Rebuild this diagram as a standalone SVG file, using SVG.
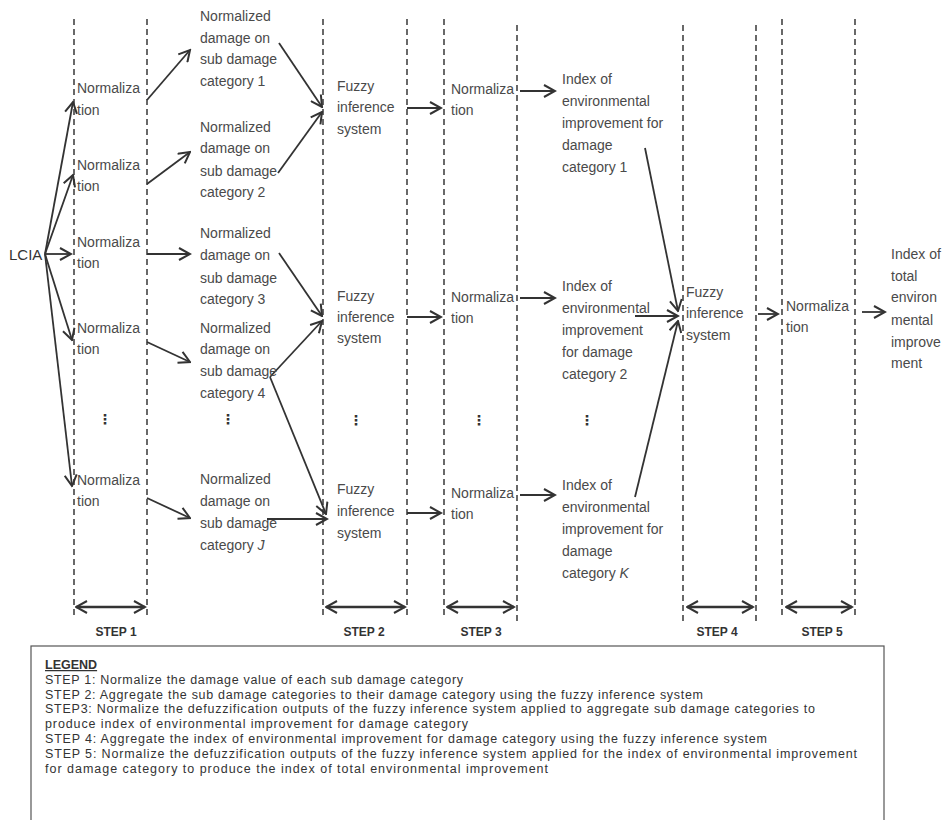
<svg xmlns="http://www.w3.org/2000/svg" width="946" height="820" viewBox="0 0 946 820">
<style>
.t{font-family:"Liberation Sans",Arial,sans-serif;font-size:14px;fill:#4a4a4a}
.lc{font-family:"Liberation Sans",Arial,sans-serif;font-size:15px;fill:#333}
.st{font-family:"Liberation Sans",Arial,sans-serif;font-size:12px;font-weight:bold;fill:#333;text-anchor:middle}
.lg{font-family:"Liberation Sans",Arial,sans-serif;font-size:12.5px;fill:#333}
.dots{font-family:"DejaVu Sans",sans-serif;font-size:14px;font-weight:bold;fill:#333;text-anchor:middle}
.dash{stroke:#444;stroke-width:1.6;stroke-dasharray:6 4;fill:none}
.c{stroke:#333;stroke-width:1.8;fill:none;marker-end:url(#ah)}
.dbl{stroke:#333;stroke-width:2.5;fill:none;marker-end:url(#ah2);marker-start:url(#ah2)}
</style>
<defs>
<marker id="ah" markerUnits="userSpaceOnUse" markerWidth="14" markerHeight="14" viewBox="-1 -1 13 14" refX="11" refY="6" orient="auto">
<path d="M0,0 L11,6 L0,12" fill="none" stroke="#333" stroke-width="2"/>
</marker>
<marker id="ah2" markerUnits="userSpaceOnUse" markerWidth="14" markerHeight="14" viewBox="-1 -1 13 14" refX="11" refY="6" orient="auto-start-reverse">
<path d="M0,0 L11,6 L0,12" fill="none" stroke="#333" stroke-width="2"/>
</marker>
</defs>
<rect width="946" height="820" fill="#fff"/>

<g id="step-lines">
<line class="dash" x1="74" y1="19" x2="74" y2="616"/>
<line class="dash" x1="147" y1="19" x2="147" y2="616"/>
<line class="dash" x1="323" y1="19" x2="323" y2="616"/>
<line class="dash" x1="407" y1="19" x2="407" y2="616"/>
<line class="dash" x1="444" y1="19" x2="444" y2="616"/>
<line class="dash" x1="517" y1="25" x2="517" y2="622"/>
<line class="dash" x1="683" y1="25" x2="683" y2="622"/>
<line class="dash" x1="756" y1="25" x2="756" y2="622"/>
<line class="dash" x1="782" y1="19" x2="782" y2="616"/>
<line class="dash" x1="855" y1="19" x2="855" y2="616"/>
</g>

<g id="step-arrows">
<line class="dbl" x1="76" y1="607" x2="145" y2="607"/>
<line class="dbl" x1="326" y1="607" x2="405" y2="607"/>
<line class="dbl" x1="447" y1="607" x2="514" y2="607"/>
<line class="dbl" x1="687" y1="607" x2="753" y2="607"/>
<line class="dbl" x1="786" y1="607" x2="852" y2="607"/>
<text class="st" x="116" y="636">STEP 1</text>
<text class="st" x="364" y="636">STEP 2</text>
<text class="st" x="481" y="636">STEP 3</text>
<text class="st" x="717" y="636">STEP 4</text>
<text class="st" x="822" y="636">STEP 5</text>
</g>

<g id="connectors">
<line class="c" x1="45" y1="254" x2="73" y2="102"/>
<line class="c" x1="45" y1="254" x2="73" y2="175"/>
<line class="c" x1="45" y1="254" x2="71" y2="254"/>
<line class="c" x1="45" y1="254" x2="72" y2="340"/>
<line class="c" x1="45" y1="254" x2="72" y2="486"/>

<line class="c" x1="147" y1="100" x2="190" y2="50"/>
<line class="c" x1="147" y1="184" x2="190" y2="152"/>
<line class="c" x1="147" y1="254" x2="190" y2="254"/>
<line class="c" x1="147" y1="342" x2="190" y2="362"/>
<line class="c" x1="147" y1="498" x2="190" y2="518"/>

<line class="c" x1="279" y1="43" x2="322" y2="107"/>
<line class="c" x1="278" y1="173" x2="322" y2="112"/>
<line class="c" x1="279" y1="253" x2="322" y2="316"/>
<line class="c" x1="270" y1="377" x2="322" y2="321"/>
<line class="c" x1="270" y1="377" x2="326" y2="514"/>
<line class="c" x1="267" y1="519" x2="327" y2="519"/>

<line class="c" x1="407" y1="108" x2="441" y2="108"/>
<line class="c" x1="407" y1="317" x2="441" y2="317"/>
<line class="c" x1="407" y1="513" x2="441" y2="513"/>

<line class="c" x1="520" y1="91" x2="555" y2="91"/>
<line class="c" x1="520" y1="298" x2="555" y2="298"/>
<line class="c" x1="520" y1="495" x2="555" y2="495"/>

<line class="c" x1="645" y1="148" x2="678" y2="311"/>
<line class="c" x1="635" y1="316" x2="678" y2="316"/>
<line class="c" x1="635" y1="497" x2="678" y2="321"/>

<line class="c" x1="758" y1="314" x2="778" y2="314"/>
<line class="c" x1="862" y1="312" x2="885" y2="312"/>
</g>

<g id="lcia"><text class="lc" x="9" y="260">LCIA</text></g>

<g id="norm1-1"><text class="t" x="77" y="93">Normaliza</text><text class="t" x="77" y="115">tion</text></g>
<g id="norm1-2"><text class="t" x="77" y="170">Normaliza</text><text class="t" x="77" y="191">tion</text></g>
<g id="norm1-3"><text class="t" x="77" y="247">Normaliza</text><text class="t" x="77" y="268">tion</text></g>
<g id="norm1-4"><text class="t" x="77" y="333">Normaliza</text><text class="t" x="77" y="354">tion</text></g>
<g id="norm1-J"><text class="t" x="77" y="485">Normaliza</text><text class="t" x="77" y="506">tion</text></g>

<g id="nd-1"><text class="t" x="200" y="21">Normalized</text><text class="t" x="200" y="43">damage on</text><text class="t" x="200" y="64">sub damage</text><text class="t" x="200" y="86">category 1</text></g>
<g id="nd-2"><text class="t" x="200" y="132">Normalized</text><text class="t" x="200" y="153">damage on</text><text class="t" x="200" y="176">sub damage</text><text class="t" x="200" y="197">category 2</text></g>
<g id="nd-3"><text class="t" x="200" y="238">Normalized</text><text class="t" x="200" y="260">damage on</text><text class="t" x="200" y="283">sub damage</text><text class="t" x="200" y="304">category 3</text></g>
<g id="nd-4"><text class="t" x="200" y="333">Normalized</text><text class="t" x="200" y="354">damage on</text><text class="t" x="200" y="376">sub damage</text><text class="t" x="200" y="398">category 4</text></g>
<g id="nd-J"><text class="t" x="200" y="484">Normalized</text><text class="t" x="200" y="506">damage on</text><text class="t" x="200" y="528">sub damage</text><text class="t" x="200" y="550">category <tspan font-style="italic">J</tspan></text></g>

<g id="fis-1"><text class="t" x="337" y="91">Fuzzy</text><text class="t" x="337" y="112">inference</text><text class="t" x="337" y="134">system</text></g>
<g id="fis-2"><text class="t" x="337" y="301">Fuzzy</text><text class="t" x="337" y="322">inference</text><text class="t" x="337" y="343">system</text></g>
<g id="fis-K"><text class="t" x="337" y="494">Fuzzy</text><text class="t" x="337" y="516">inference</text><text class="t" x="337" y="538">system</text></g>

<g id="norm3-1"><text class="t" x="451" y="94">Normaliza</text><text class="t" x="451" y="115">tion</text></g>
<g id="norm3-2"><text class="t" x="451" y="302">Normaliza</text><text class="t" x="451" y="323">tion</text></g>
<g id="norm3-K"><text class="t" x="451" y="498">Normaliza</text><text class="t" x="451" y="519">tion</text></g>

<g id="idx-1"><text class="t" x="562" y="84">Index of</text><text class="t" x="562" y="106">environmental</text><text class="t" x="562" y="128">improvement for</text><text class="t" x="562" y="150">damage</text><text class="t" x="562" y="172">category 1</text></g>
<g id="idx-2"><text class="t" x="562" y="291">Index of</text><text class="t" x="562" y="313">environmental</text><text class="t" x="562" y="335">improvement</text><text class="t" x="562" y="357">for damage</text><text class="t" x="562" y="379">category 2</text></g>
<g id="idx-K"><text class="t" x="562" y="490">Index of</text><text class="t" x="562" y="512">environmental</text><text class="t" x="562" y="534">improvement for</text><text class="t" x="562" y="556">damage</text><text class="t" x="562" y="578">category <tspan font-style="italic">K</tspan></text></g>

<g id="fis-total"><text class="t" x="686" y="297">Fuzzy</text><text class="t" x="686" y="318">inference</text><text class="t" x="686" y="340">system</text></g>
<g id="norm5"><text class="t" x="786" y="311">Normaliza</text><text class="t" x="786" y="332">tion</text></g>
<g id="idx-total"><text class="t" x="891" y="259">Index of</text><text class="t" x="891" y="281">total</text><text class="t" x="891" y="302">environ</text><text class="t" x="891" y="325">mental</text><text class="t" x="891" y="347">improve</text><text class="t" x="891" y="368">ment</text></g>

<g id="ellipses">
<text class="dots" x="105" y="424">⋮</text>
<text class="dots" x="228" y="424">⋮</text>
<text class="dots" x="356" y="425">⋮</text>
<text class="dots" x="479" y="425">⋮</text>
<text class="dots" x="587" y="425">⋮</text>
</g>

<g id="legend">
<rect x="31" y="646" width="853" height="190" fill="none" stroke="#555" stroke-width="1.2"/>
<text class="lg" x="45" y="669" font-weight="bold" text-decoration="underline">LEGEND</text>
<text class="lg" x="45" y="684" textLength="418" lengthAdjust="spacing">STEP 1: Normalize the damage value of each sub damage category</text>
<text class="lg" x="45" y="699" textLength="658" lengthAdjust="spacing">STEP 2: Aggregate the sub damage categories to their damage category using the fuzzy inference system</text>
<text class="lg" x="45" y="713" textLength="770" lengthAdjust="spacing">STEP3: Normalize the defuzzification outputs of the fuzzy inference system applied to aggregate sub damage categories to</text>
<text class="lg" x="45" y="728" textLength="423" lengthAdjust="spacing">produce index of environmental improvement for damage category</text>
<text class="lg" x="45" y="743" textLength="722" lengthAdjust="spacing">STEP 4: Aggregate the index of environmental improvement for damage category using the fuzzy inference system</text>
<text class="lg" x="45" y="758" textLength="812" lengthAdjust="spacing">STEP 5: Normalize the defuzzification outputs of the fuzzy inference system applied for the index of environmental improvement</text>
<text class="lg" x="45" y="773" textLength="503" lengthAdjust="spacing">for damage category to produce the index of total environmental improvement</text>
</g>
</svg>
